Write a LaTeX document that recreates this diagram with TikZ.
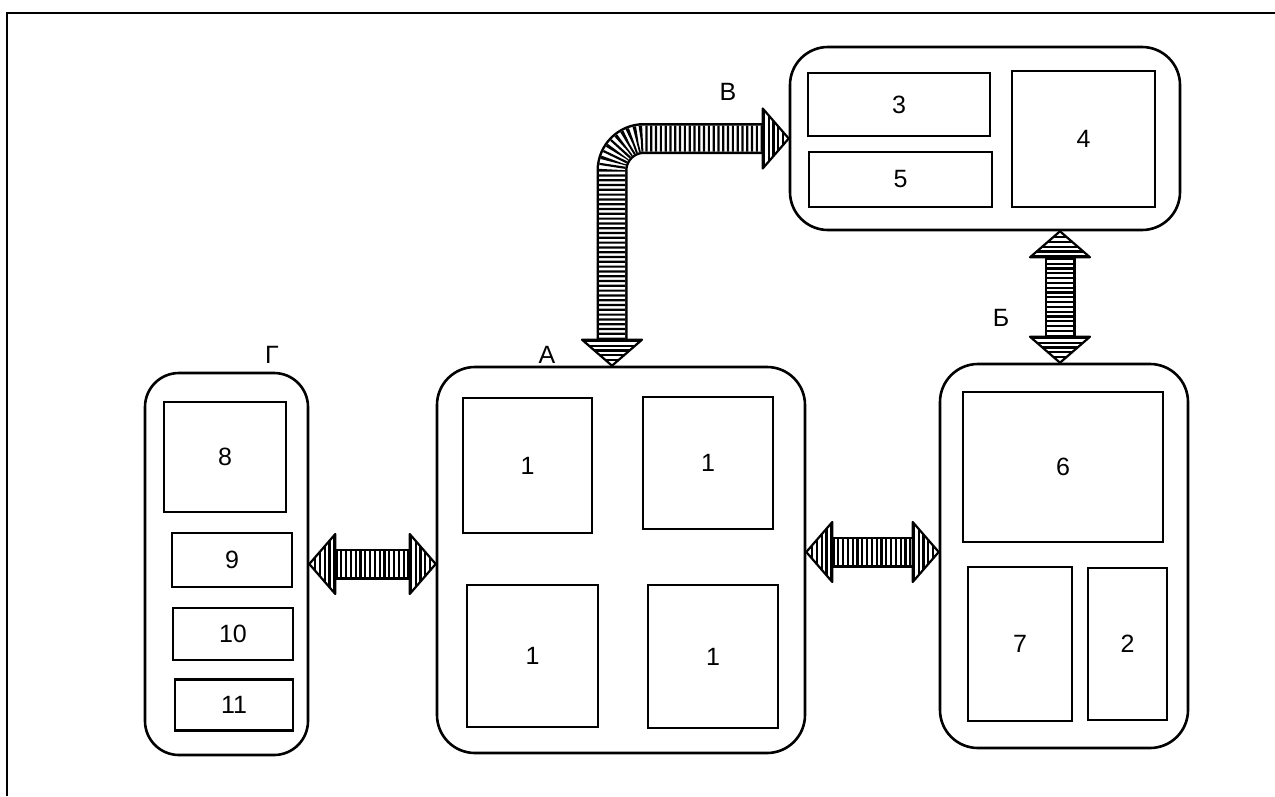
\documentclass[tikz,border=0pt]{standalone}
\usepackage{fontspec}
\setmainfont{Liberation Sans}
\usetikzlibrary{calc}
\tikzset{
  grp/.style={draw, line width=2.6pt, rounded corners=38pt, inner sep=0pt},
  inbox/.style={draw, line width=2.1pt, inner sep=0pt, font=\fontsize{25}{28}\selectfont},
  lbl/.style={font=\fontsize{25}{28}\selectfont, inner sep=0pt},
  shaftout/.style={line width=31pt, draw=black},
  shaftin/.style={line width=26pt, draw=white},
  shaftstripe/.style={line width=26pt, draw=black, dash pattern=on 2.2pt off 2.6pt},
  headline/.style={line width=2.2pt, line join=round},
  stripes/.style={draw=black, dash pattern=on 2.2pt off 2.6pt},
  frameline/.style={line width=2.6pt}
}
\newcommand\fathead[2]{%
  \coordinate (fh-t) at (#1);
  \coordinate (fh-b) at ($(#1)!26pt!(#2)$);
  \coordinate (fh-l) at ($(fh-b)!30pt!90:(fh-t)$);
  \coordinate (fh-r) at ($(fh-b)!30pt!-90:(fh-t)$);
  \fill[white] (fh-t) -- (fh-l) -- (fh-r) -- cycle;
  \begin{scope}
    \clip (fh-t) -- (fh-l) -- (fh-r) -- cycle;
    \draw[stripes, line width=64pt] (fh-b) -- (fh-t);
  \end{scope}
  \draw[headline] (fh-t) -- (fh-l) -- (fh-r) -- cycle;
}
\newcommand\fatarrow[2]{%
  \coordinate (fa-1) at ($(#1)!26pt!(#2)$);
  \coordinate (fa-2) at ($(#2)!26pt!(#1)$);
  \draw[shaftout] (fa-1) -- (fa-2);
  \draw[shaftin] (fa-1) -- (fa-2);
  \draw[shaftstripe] (fa-1) -- (fa-2);
  \fathead{#1}{#2}
  \fathead{#2}{#1}
}
\begin{document}
\begin{tikzpicture}[x=1pt, y=-1pt]
\useasboundingbox (0,0) rectangle (1275,796);
% partial frame
\draw[frameline] (7,796) -- (7,13) -- (1275,13);

% group G
\node[grp, minimum width=163pt, minimum height=382pt, rounded corners=34pt] (G) at (226.5,564) {};
\node[inbox, minimum width=122pt, minimum height=110pt] (g8) at (225,457) {8};
\node[inbox, minimum width=120pt, minimum height=54pt] (g9) at (232,560) {9};
\node[inbox, minimum width=120pt, minimum height=52pt] (g10) at (233,634) {10};
\node[inbox, minimum width=118pt, minimum height=51pt] (g11) at (234,705) {11};
\node[lbl] (lG) at (272,355) {Г};

% group A
\node[grp, minimum width=368pt, minimum height=386pt] (A) at (621,560) {};
\node[inbox, minimum width=129pt, minimum height=135pt] (a1) at (527.5,465.5) {1};
\node[inbox, minimum width=130pt, minimum height=132pt] (a2) at (708,463) {1};
\node[inbox, minimum width=131pt, minimum height=142pt] (a3) at (532.5,656) {1};
\node[inbox, minimum width=130pt, minimum height=143pt] (a4) at (713,656.5) {1};
\node[lbl] (lA) at (547,355) {А};

% group B (Б)
\node[grp, minimum width=248pt, minimum height=384pt] (B) at (1064,556) {};
\node[inbox, minimum width=200pt, minimum height=150pt] (b6) at (1063,467) {6};
\node[inbox, minimum width=104pt, minimum height=154pt] (b7) at (1020,644) {7};
\node[inbox, minimum width=79pt, minimum height=152pt] (b2) at (1127.5,644) {2};
\node[lbl] (lB) at (1001,318) {Б};

% group V (В)
\node[grp, minimum width=390pt, minimum height=183pt] (V) at (985,138.5) {};
\node[inbox, minimum width=182pt, minimum height=63pt] (v3) at (899,104.5) {3};
\node[inbox, minimum width=183pt, minimum height=55pt] (v5) at (900.5,179.5) {5};
\node[inbox, minimum width=143pt, minimum height=136pt] (v4) at (1083.5,139) {4};
\node[lbl] (lV) at (728,92) {В};

% straight double arrows
\coordinate (gaL) at (G.east);
\coordinate (gaR) at (G.east -| A.west);
\fatarrow{gaL}{gaR}
\coordinate (abL) at ($(A.east)+(0,-8)$);
\coordinate (abR) at (abL -| B.west);
\fatarrow{abL}{abR}
\coordinate (bvB) at ($(B.north)+(-4,0)$);
\coordinate (bvT) at (bvB |- V.south);
\fatarrow{bvB}{bvT}

% bent double arrow A <-> V
\coordinate (avA) at ($(A.north)+(-9,0)$);
\coordinate (avV) at (V.west);
\coordinate (avC) at (avA |- avV);
\coordinate (avA1) at ($(avA)!26pt!(avC)$);
\coordinate (avV1) at ($(avV)!26pt!(avC)$);
\draw[shaftout, rounded corners=32pt] (avA1) -- (avC) -- (avV1);
\draw[shaftin, rounded corners=32pt] (avA1) -- (avC) -- (avV1);
\draw[shaftstripe, rounded corners=32pt] (avA1) -- (avC) -- (avV1);
\fathead{avA}{avC}
\fathead{avV}{avC}
\end{tikzpicture}
\end{document}
